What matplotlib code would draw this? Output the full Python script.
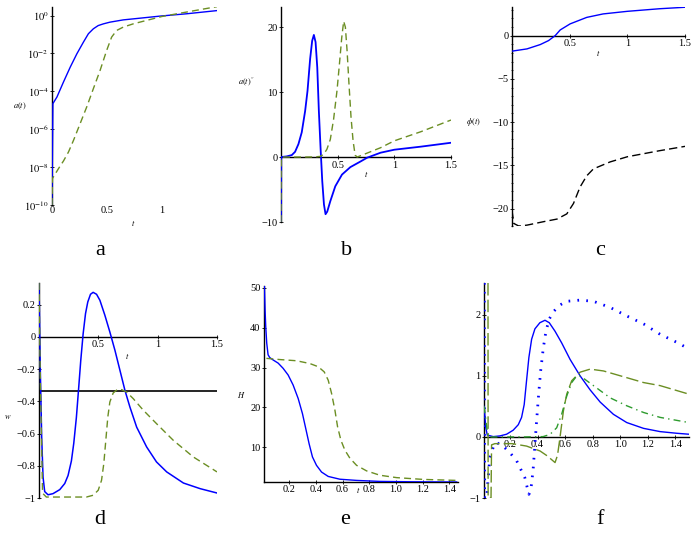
import matplotlib
matplotlib.use("Agg")
import matplotlib.pyplot as plt
from matplotlib.ticker import MultipleLocator, FixedLocator, NullLocator

plt.rcParams['font.family'] = ['Liberation Serif', 'DejaVu Serif']
plt.rcParams['mathtext.fontset'] = 'stix'

BLUE = '#0000ff'
OLIVE = '#6b8e23'
GREEN = '#2e9b2e'

# --- panel a : a(t), log scale (values are log10 a)
ta_blue = [0, 0.008, 0.045, 0.105, 0.166, 0.226, 0.286, 0.331, 0.376, 0.42, 0.467, 0.527, 0.648,
           0.8, 1.0, 1.22, 1.5]
la_blue = [-10, -4.65, -4.3, -3.5, -2.72, -2.02, -1.4, -0.96, -0.7, -0.53, -0.44, -0.35, -0.23,
           -0.14, -0.02, 0.09, 0.26]
ta_green = [0, 0.004, 0.06, 0.105, 0.15, 0.196, 0.256, 0.316, 0.376, 0.437, 0.497, 0.542, 0.587,
            0.648, 0.738, 0.858, 1.0, 1.22, 1.5]
la_green = [-10, -8.6, -8.07, -7.67, -7.2, -6.58, -5.7, -4.82, -3.86, -2.9, -1.84, -1.14, -0.79,
            -0.61, -0.44, -0.26, -0.05, 0.18, 0.47]

# --- panel b : a''(t)
tb_blue = [0, 0.002, 0.05, 0.095, 0.124, 0.154, 0.183, 0.213, 0.234, 0.257, 0.275, 0.29, 0.305,
           0.32, 0.334, 0.349, 0.364, 0.379, 0.393, 0.408, 0.435, 0.479, 0.538, 0.612, 0.70,
           0.76, 0.879, 1.0, 1.234, 1.5]
b_blue = [-10, 0, 0.1, 0.3, 0.8, 2.0, 3.8, 7.1, 10.2, 15.1, 17.9, 18.8, 17.7,
          13.8, 7.1, 1.4, -3.7, -7.3, -8.8, -8.4, -6.8, -4.5, -2.7, -1.55, -0.7,
          -0.1, 0.67, 1.13, 1.6, 2.2]
tb_green = [0, 0.002, 0.1, 0.2, 0.3, 0.346, 0.376, 0.405, 0.435, 0.464, 0.494, 0.518, 0.536,
            0.553, 0.568, 0.583, 0.6, 0.618, 0.636, 0.654, 0.672, 0.73, 0.879, 1.0, 1.234, 1.5]
b_green = [-10, 0, 0, 0, 0.02, 0.1, 0.4, 1.2, 2.7, 5.8, 10.2, 14.8, 18.4,
           20.9, 20.0, 16.4, 11.2, 6.1, 2.5, 0.3, 0.0, 0.4, 1.44, 2.5, 3.9, 5.7]

# --- panel c : phi(t)
tc_blue = [0, 0.13, 0.245, 0.317, 0.375, 0.418, 0.504, 0.648, 0.79, 1.0, 1.28, 1.5]
c_blue = [-1.8, -1.54, -1.04, -0.58, 0.0, 0.65, 1.35, 2.1, 2.5, 2.8, 3.1, 3.27]
tc_black = [0, 0.015, 0.058, 0.13, 0.274, 0.39, 0.475, 0.533, 0.59, 0.648, 0.706, 0.85, 1.0, 1.28, 1.5]
c_black = [-20.2, -21.7, -22.0, -21.9, -21.5, -21.2, -20.6, -19.4, -17.5, -16.2, -15.4, -14.6,
           -14.0, -13.3, -12.8]

# --- panel d : w
td_blue = [0, 0.011, 0.0225, 0.034, 0.048, 0.076, 0.118, 0.175, 0.217, 0.245, 0.273, 0.293, 0.315,
           0.335, 0.352, 0.372, 0.392, 0.411, 0.434, 0.456, 0.485, 0.513, 0.555, 0.597, 0.64,
           0.682, 0.724, 0.766, 0.823, 0.907, 0.99, 1.076, 1.217, 1.358, 1.5]
d_blue = [0.335, -0.207, -0.62, -0.87, -0.96, -0.98, -0.973, -0.948, -0.91, -0.86, -0.77, -0.66, -0.5,
          -0.31, -0.145, 0.02, 0.145, 0.217, 0.265, 0.277, 0.265, 0.228, 0.135, 0.031, -0.083,
          -0.207, -0.331, -0.435, -0.56, -0.683, -0.776, -0.838, -0.907, -0.942, -0.969]
td_green = [0, 0.011, 0.03, 0.062, 0.2, 0.4, 0.456, 0.499, 0.527, 0.546, 0.563, 0.58, 0.597, 0.625,
            0.659, 0.696, 0.738, 0.794, 0.879, 0.99, 1.132, 1.3, 1.5]
d_green = [0.335, -0.25, -0.97, -0.994, -0.994, -0.994, -0.983, -0.952, -0.89, -0.787, -0.642, -0.497,
           -0.404, -0.348, -0.327, -0.327, -0.342, -0.383, -0.455, -0.538, -0.642, -0.745, -0.838]

# --- panel e : H
te_blue = [0.015, 0.02, 0.025, 0.0325, 0.0425, 0.055, 0.08, 0.118, 0.155, 0.193, 0.23, 0.268, 0.3,
           0.325, 0.35, 0.375, 0.405, 0.443, 0.493, 0.58, 0.705, 0.88, 1.13, 1.455]
e_blue = [50.5, 44.5, 40.3, 36.1, 33.2, 32.5, 31.9, 31.1, 29.8, 28.1, 25.6, 22.2, 18.4,
          14.6, 10.8, 7.5, 5.4, 3.7, 2.6, 1.9, 1.6, 1.35, 1.25, 1.2]
te_green = [0.03, 0.13, 0.255, 0.355, 0.418, 0.463, 0.493, 0.518, 0.543, 0.563, 0.588, 0.618, 0.655,
            0.705, 0.78, 0.88, 1.005, 1.205, 1.455]
e_green = [32.3, 32.0, 31.7, 31.0, 30.2, 28.9, 26.8, 23.5, 19.3, 15.1, 11.7, 9.2, 7.2,
           5.4, 4.0, 2.9, 2.3, 1.85, 1.6]

# --- panel f
tf_solid = [0.012, 0.024, 0.035, 0.078, 0.126, 0.175, 0.223, 0.26, 0.284, 0.303, 0.32, 0.337, 0.357,
            0.381, 0.417, 0.454, 0.485, 0.527, 0.575, 0.636, 0.709, 0.782, 0.855, 0.951, 1.048,
            1.17, 1.29, 1.41, 1.5]
f_solid = [0.5, 0.15, 0.03, 0.005, 0.016, 0.044, 0.11, 0.2, 0.32, 0.53, 0.92, 1.3, 1.6,
           1.77, 1.87, 1.91, 1.87, 1.73, 1.54, 1.27, 1.0, 0.77, 0.57, 0.37, 0.235,
           0.14, 0.087, 0.06, 0.044]
tf_dot = [0.013, 0.015, 0.03, 0.053, 0.078, 0.1, 0.15, 0.2, 0.248, 0.308, 0.325, 0.337, 0.35, 0.359,
          0.369, 0.381, 0.393, 0.408, 0.422, 0.442, 0.461, 0.485, 0.515, 0.563, 0.61, 0.709, 0.806,
          0.927, 1.048, 1.17, 1.29, 1.41, 1.5]
f_dot = [2.52, -1.0, -1.0, -0.34, -0.17, -0.09, -0.15, -0.26, -0.39, -0.67, -0.83, -0.94, -0.88, -0.72,
         -0.5, -0.12, 0.26, 0.7, 1.07, 1.46, 1.73, 1.93, 2.05, 2.16, 2.22, 2.24, 2.22,
         2.12, 1.98, 1.85, 1.68, 1.55, 1.44]
tf_dash = [0.04, 0.041, 0.062, 0.066, 0.09, 0.215, 0.32, 0.418, 0.47, 0.527, 0.545, 0.563, 0.588,
           0.612, 0.648, 0.709, 0.782, 0.879, 1.048, 1.17, 1.29, 1.5]
f_dash = [2.52, -1.0, -1.0, -0.13, -0.11, -0.11, -0.15, -0.23, -0.31, -0.42, -0.3, -0.01, 0.43,
          0.7, 0.92, 1.06, 1.11, 1.08, 0.97, 0.89, 0.84, 0.7]
tf_dd = [0.012, 0.04, 0.1, 0.3, 0.44, 0.49, 0.539, 0.575, 0.612, 0.648, 0.685, 0.709, 0.806, 0.927,
         1.048, 1.17, 1.29, 1.5]
f_dd = [0.5, 0.0, 0.0, 0.0, 0.005, 0.04, 0.15, 0.37, 0.67, 0.89, 1.0, 1.0, 0.84, 0.64,
        0.51, 0.4, 0.32, 0.235]

W, H = 697, 540
fig = plt.figure(figsize=(W / 100, H / 100), dpi=100)


def make_ax(x0, y0, x1, y1):
    # pixel box (top-left origin) -> figure fraction
    return fig.add_axes([x0 / W, 1 - y1 / H, (x1 - x0) / W, (y1 - y0) / H])


def maple_axes(ax, xzero=True):
    for s in ['top', 'right']:
        ax.spines[s].set_visible(False)
    ax.spines['left'].set_position(('data', ax.get_xlim()[0]))
    if xzero:
        ax.spines['bottom'].set_position(('data', 0))
    for s in ['left', 'bottom']:
        ax.spines[s].set_linewidth(1.0)
        ax.spines[s].set_color('black')
        ax.spines[s].set_zorder(0.5)
    ax.tick_params(labelsize=7.5, length=3, width=0.6, direction='inout', pad=1)
    ax.tick_params(which='minor', length=2, width=0.5, direction='inout')
    ax.patch.set_alpha(0)


lw = 1.0

# a
ax = make_ax(52, 7, 217, 205)
ax.plot(ta_blue, [10 ** v for v in la_blue], color=BLUE, lw=lw)
ax.plot(ta_green, [10 ** v for v in la_green], color=OLIVE, lw=lw, dashes=(5, 3))
ax.set_yscale('log')
ax.set_xlim(0, 1.5)
ax.set_ylim(1e-10, 10 ** 0.45)
ax.yaxis.set_major_locator(FixedLocator([1e-10, 1e-8, 1e-6, 1e-4, 1e-2, 1]))
ax.yaxis.set_minor_locator(NullLocator())
ax.set_yticklabels(['$10^{-10}$', '$10^{-8}$', '$10^{-6}$', '$10^{-4}$', '$10^{-2}$', '$10^{0}$'])
ax.set_xticks([0, 0.5, 1])
ax.set_xticklabels(['0', '0.5', '1'])
maple_axes(ax, xzero=False)
ax.spines['bottom'].set_visible(False)
ax.tick_params(axis='x', length=0)
fig.text(20 / W, 1 - 106 / H, '$a(t)$', fontsize=6, ha='center', va='center')
fig.text(133 / W, 1 - 223 / H, '$t$', fontsize=6, ha='center', va='center')

# b
ax = make_ax(281, 7, 451, 222)
ax.plot(tb_blue, b_blue, color=BLUE, lw=1.3)
ax.plot(tb_green, b_green, color=OLIVE, lw=lw, dashes=(5, 3))
ax.set_xlim(0, 1.5)
ax.set_ylim(-10, 23.1)
ax.set_yticks([-10, 0, 10, 20])
ax.set_xticks([0.5, 1, 1.5])
ax.set_xticklabels(['0.5', '1', '1.5'])
maple_axes(ax)
fig.text(247 / W, 1 - 82 / H, r"$a(t)^{\prime\prime}$", fontsize=6, ha='center', va='center')
fig.text(366 / W, 1 - 174 / H, '$t$', fontsize=6, ha='center', va='center')

# c
ax = make_ax(512, 7, 685, 226)
ax.plot(tc_blue, c_blue, color=BLUE, lw=lw)
ax.plot(tc_black, c_black, color='black', lw=lw, dashes=(6, 3))
ax.set_xlim(0, 1.5)
ax.set_ylim(-22.0, 3.3)
ax.set_yticks([-20, -15, -10, -5, 0])
ax.yaxis.set_minor_locator(MultipleLocator(1))
ax.set_xticks([0.5, 1, 1.5])
ax.set_xticklabels(['0.5', '1', '1.5'])
maple_axes(ax)
fig.text(473 / W, 1 - 122 / H, r'$\phi(t)$', fontsize=6, ha='center', va='center')
fig.text(598 / W, 1 - 53 / H, '$t$', fontsize=6, ha='center', va='center')

# d
ax = make_ax(39, 283, 217, 498)
ax.axhline(-1 / 3, color='black', lw=1.2, zorder=1)
ax.plot(td_blue, d_blue, color=BLUE, lw=1.1)
ax.plot(td_green, d_green, color=OLIVE, lw=lw, dashes=(5, 3))
ax.set_xlim(0, 1.5)
ax.set_ylim(-1.0, 0.335)
ax.set_yticks([-1, -0.8, -0.6, -0.4, -0.2, 0, 0.2])
ax.set_yticklabels(['\u22121', '\u22120.8', '\u22120.6', '\u22120.4', '\u22120.2', '0', '0.2'])
ax.set_xticks([0.5, 1, 1.5])
ax.set_xticklabels(['0.5', '1', '1.5'])
maple_axes(ax)
fig.text(8 / W, 1 - 417 / H, '$w$', fontsize=6, ha='center', va='center')
fig.text(127 / W, 1 - 356 / H, '$t$', fontsize=6, ha='center', va='center')

# e
ax = make_ax(264, 286, 458, 482)
ax.plot(te_blue, e_blue, color=BLUE, lw=lw)
ax.plot(te_green, e_green, color=OLIVE, lw=lw, dashes=(5, 3))
ax.set_xlim(0.012, 1.465)
ax.set_ylim(1.2, 50.5)
ax.set_yticks([10, 20, 30, 40, 50])
ax.set_xticks([0.2, 0.4, 0.6, 0.8, 1.0, 1.2, 1.4])
ax.set_xticklabels(['0.2', '0.4', '0.6', '0.8', '1.0', '1.2', '1.4'])
maple_axes(ax, xzero=False)
fig.text(241 / W, 1 - 395 / H, '$H$', fontsize=6, ha='center', va='center')
fig.text(358 / W, 1 - 490 / H, '$t$', fontsize=6, ha='center', va='center')

# f
ax = make_ax(484, 283, 689, 498)
ax.plot(tf_solid, f_solid, color=BLUE, lw=lw)
ax.plot(tf_dot, f_dot, color=BLUE, lw=2.0, linestyle=(0, (0.6, 2.6)), dash_capstyle='butt')
ax.plot(tf_dash, f_dash, color=OLIVE, lw=lw, dashes=(9, 3))
ax.plot(tf_dd, f_dd, color=GREEN, lw=lw, dashes=(5, 3, 1, 3))
ax.set_xlim(0.011, 1.5)
ax.set_ylim(-1.0, 2.52)
ax.set_yticks([-1, 0, 1, 2])
ax.set_yticklabels(['\u22121', '0', '1', '2'])
ax.set_xticks([0.2, 0.4, 0.6, 0.8, 1.0, 1.2, 1.4])
ax.set_xticklabels(['0.2', '0.4', '0.6', '0.8', '1.0', '1.2', '1.4'])
maple_axes(ax)

# panel letters
for letter, (px, py) in zip('abcdef', [(100, 250), (347, 250), (600, 250),
                                       (100, 520), (345, 520), (600, 520)]):
    fig.text(px / W, 1 - py / H, letter, fontsize=16, ha='center', va='center')

fig.savefig('out.png', dpi=100)
